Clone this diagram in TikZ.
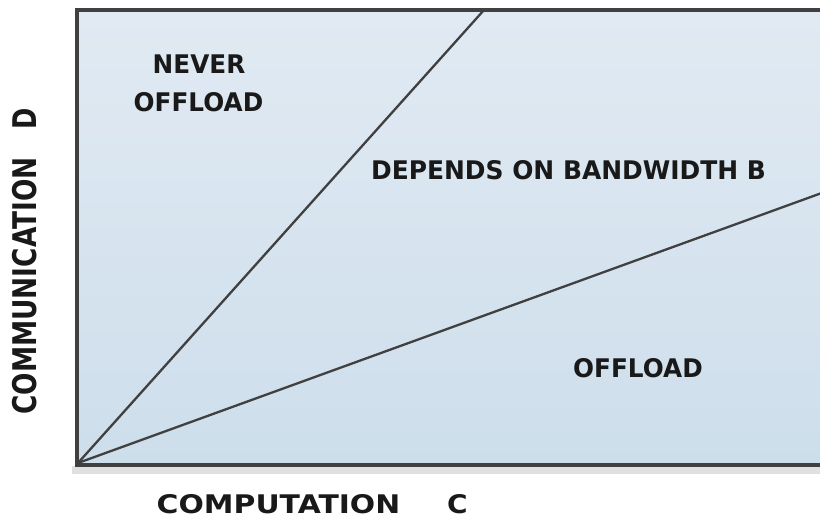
\documentclass[tikz,border=0pt]{standalone}
\usepackage{fontspec}
\usepackage{graphicx}
\setmainfont{DejaVu Sans}
\begin{document}
\begin{tikzpicture}[x=1pt,y=-1pt,
  region/.style={inner sep=0pt,text=black!90,font=\fontsize{23.3}{28}\selectfont\bfseries},
  axislabel/.style={region},
  bound/.style={draw=black!75,line width=2.3pt},
  frame/.style={draw=black!75,line width=4pt}]
\useasboundingbox (0,0) rectangle (820,518);
\begin{scope}
\clip (0,0) rectangle (820,518);
% soft shadow along the lower edge
\fill[black!12] (72,466) rectangle (828,474);
% plane of computation versus communication
\shade[top color={rgb,255:red,225;green,234;blue,243},bottom color={rgb,255:red,205;green,222;blue,235}]
  (76.5,10) rectangle (830,465);
\coordinate (o) at (78,463);
\coordinate (steep) at (484,10);
\coordinate (shallow) at (830,190);
\draw[bound] (o) -- (steep);
\draw[bound] (o) -- (shallow);
\draw[frame] (830,10) -- (76.5,10) -- (76.5,465) -- (830,465);
\end{scope}
% region labels
\node[region] (never) at (199,64) {\scalebox{1.06}[1.1]{NEVER}};
\node[region] (noff) at (198.5,102.5) {\scalebox{1.06}[1.1]{OFFLOAD}};
\node[region] (dep) at (568.5,170) {\scalebox{1.07}[1.1]{DEPENDS ON BANDWIDTH B}};
\node[region] (off) at (638,368) {\scalebox{1.06}[1.1]{OFFLOAD}};
% axis labels
\node[axislabel] (xlab) at (278.5,504) {\scalebox{1.28}[1.1]{COMPUTATION}};
\node[axislabel] (xvar) at (457.5,504) {\scalebox{1.2}[1.1]{C}};
\node[axislabel,rotate=90] (ylab) at (24.5,286) {\scalebox{1.13}[1.4]{COMMUNICATION}};
\node[axislabel,rotate=90] (yvar) at (24.5,118.5) {\scalebox{1.1}[1.4]{D}};
\end{tikzpicture}
\end{document}
